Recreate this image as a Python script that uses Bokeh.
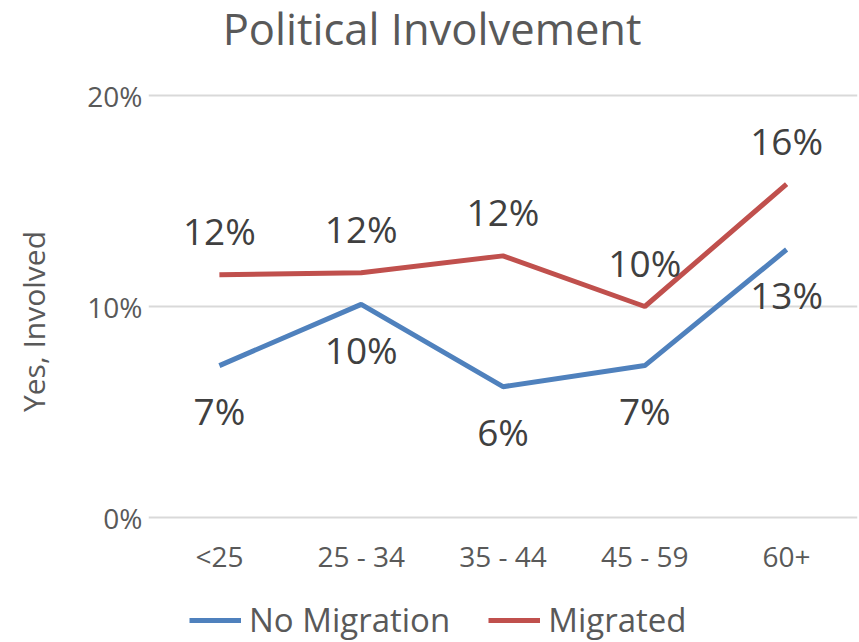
from bokeh.plotting import figure
from bokeh.models import ColumnDataSource, FactorRange, Range1d, Legend, LegendItem, Label, FixedTicker
from bokeh.embed import file_html
from bokeh.resources import INLINE
from bokeh.core.properties import value

categories = ["<25", "25 - 34", "35 - 44", "45 - 59", "60+"]
no_migration = [7.2, 10.1, 6.2, 7.2, 12.7]
migrated = [11.5, 11.6, 12.4, 10.0, 15.8]
y_ticks = [0, 10, 20]
y_tick_labels = {0: "0%", 10: "10%", 20: "20%"}
series_names = ["No Migration", "Migrated"]
title_text = "Political Involvement"

FONT = "Open Sans"
BLUE = "#4f81bd"
RED = "#c0504d"
W, H = 859, 642
PX_PER_UNIT = 21.1           # pixels per percentage point
TOP_PX, ZERO_PX = 95, 517    # pixel rows of the 20% and 0% gridlines
Y_TOP = 20 + TOP_PX / PX_PER_UNIT
Y_BOTTOM = -(H - ZERO_PX) / PX_PER_UNIT

def lab(v):
    return f"{int(v + 0.5)}%"

src_b = ColumnDataSource(dict(x=categories, y=no_migration, t=[lab(v) for v in no_migration]))
src_r = ColumnDataSource(dict(x=categories, y=migrated, t=[lab(v) for v in migrated]))

p = figure(width=W, height=H, x_range=FactorRange(*categories), y_range=Range1d(Y_BOTTOM, Y_TOP),
           output_backend="svg", toolbar_location=None,
           min_border_left=148, min_border_right=2, min_border_bottom=0, min_border_top=0)
p.outline_line_color = None
p.background_fill_color = "white"

p.xgrid.grid_line_color = None
p.ygrid.grid_line_color = "#d9d9d9"
p.ygrid.grid_line_width = 2

p.yaxis.ticker = FixedTicker(ticks=y_ticks)
p.yaxis.major_label_overrides = y_tick_labels
for ax in (p.xaxis, p.yaxis):
    ax.axis_line_color = None
    ax.major_tick_line_color = None
    ax.minor_tick_line_color = None
    ax.major_label_text_font = FONT
    ax.major_label_text_font_size = "28px"
    ax.major_label_text_color = "#595959"
p.xaxis.fixed_location = 0
p.xaxis.major_label_standoff = 13
p.yaxis.major_label_standoff = 0
p.yaxis.axis_label = "Yes, Involved"
p.yaxis.axis_label_text_font = FONT
p.yaxis.axis_label_text_font_size = "30px"
p.yaxis.axis_label_text_font_style = "normal"
p.yaxis.axis_label_text_color = "#595959"
p.yaxis.axis_label_standoff = 30

lb = p.line("x", "y", source=src_b, line_color=BLUE, line_width=5)
lr = p.line("x", "y", source=src_r, line_color=RED, line_width=5)

p.text("x", "y", text="t", source=src_b, y_offset=45, text_align="center", text_baseline="middle",
       text_font=value(FONT), text_font_size="37px", text_color="#404040")
p.text("x", "y", text="t", source=src_r, y_offset=-44, text_align="center", text_baseline="middle",
       text_font=value(FONT), text_font_size="37px", text_color="#404040")

# chart title, centred on the whole figure, above the 20% gridline
p.add_layout(Label(x=2.0, y=20 + (TOP_PX - 28) / PX_PER_UNIT, text=title_text,
                   text_align="center", text_baseline="middle",
                   text_font=FONT, text_font_size="43.5px", text_color="#595959"))

legend = Legend(items=[LegendItem(label=series_names[0], renderers=[lb]),
                       LegendItem(label=series_names[1], renderers=[lr])],
                orientation="horizontal", location=(41, 0),
                padding=0, margin=0, spacing=38, label_standoff=8,
                glyph_width=52, glyph_height=30, label_height=30,
                label_text_font=FONT, label_text_font_size="33px", label_text_color="#595959",
                border_line_color=None, background_fill_alpha=0)
p.add_layout(legend, "center")

open("out.html", "w").write(file_html(p, INLINE))
